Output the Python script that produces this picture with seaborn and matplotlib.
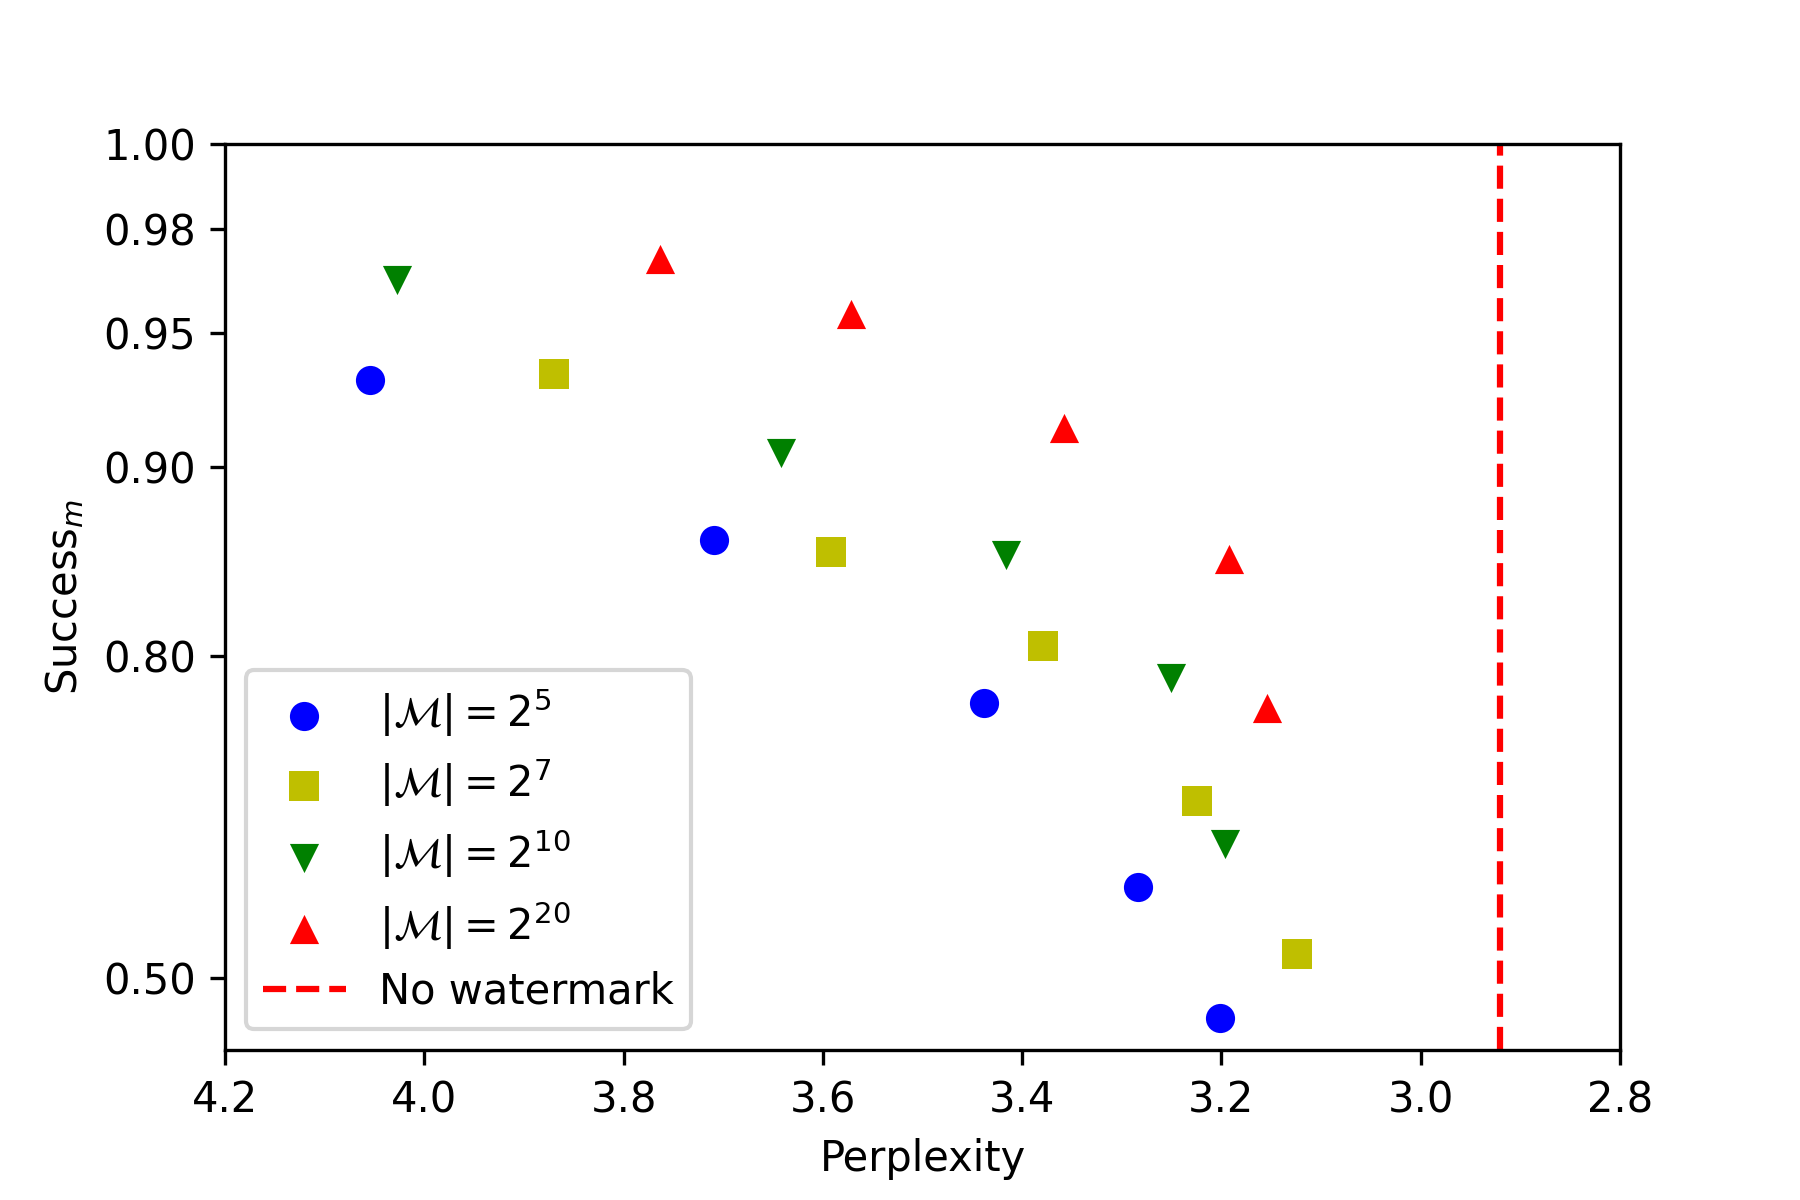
import numpy as np
import matplotlib
matplotlib.use("Agg")
import matplotlib.pyplot as plt
import seaborn as sns

# Perplexity / Success_m for each message-space size
ppl_m5 = [4.054, 3.709, 3.438, 3.284, 3.201]
succ_m5 = [0.934, 0.866, 0.768, 0.607, 0.446]

ppl_m7 = [3.870, 3.592, 3.379, 3.225, 3.124]
succ_m7 = [0.936, 0.860, 0.806, 0.690, 0.531]

ppl_m10 = [4.027, 3.642, 3.416, 3.251, 3.196]
succ_m10 = [0.966, 0.906, 0.858, 0.785, 0.650]

ppl_m20 = [3.763, 3.572, 3.358, 3.192, 3.154]
succ_m20 = [0.972, 0.956, 0.916, 0.856, 0.764]

no_wm_ppl = 2.92

labels = [r"$|\mathcal{M}|=2^{5}$", r"$|\mathcal{M}|=2^{7}$",
          r"$|\mathcal{M}|=2^{10}$", r"$|\mathcal{M}|=2^{20}$"]
xticks = [4.2, 4.0, 3.8, 3.6, 3.4, 3.2, 3.0, 2.8]
yticks = [0.50, 0.80, 0.90, 0.95, 0.98, 1.00]

fig, ax = plt.subplots(figsize=(6, 4), dpi=300)
fig.subplots_adjust(left=0.125, right=0.9, top=0.88, bottom=0.125)

series = [(ppl_m5, succ_m5, "o", "b"),
          (ppl_m7, succ_m7, "s", "y"),
          (ppl_m10, succ_m10, "v", "g"),
          (ppl_m20, succ_m20, "^", "r")]
for (x, y, m, c), lab in zip(series, labels):
    sns.scatterplot(x=x, y=y, marker=m, color=c, s=49, linewidth=0, label=lab, ax=ax)

ax.axvline(no_wm_ppl, color="r", linestyle="--", label="No watermark")

# stretched scale near 1.0
ax.set_yscale("function", functions=(lambda v: -np.log(1.1 - v),
                                     lambda z: 1.1 - np.exp(-z)))
ax.set_ylim(0.4, 1.0)
ax.set_yticks(yticks)
ax.set_yticklabels(["%.2f" % t for t in yticks])

ax.set_xlim(4.2, 2.8)
ax.set_xticks(xticks)
ax.set_xticklabels(["%.1f" % t for t in xticks])

ax.set_xlabel("Perplexity")
ax.set_ylabel("Success$_m$")
ax.legend(loc="lower left", labelspacing=0.45)

fig.savefig("out.png", dpi=300)
